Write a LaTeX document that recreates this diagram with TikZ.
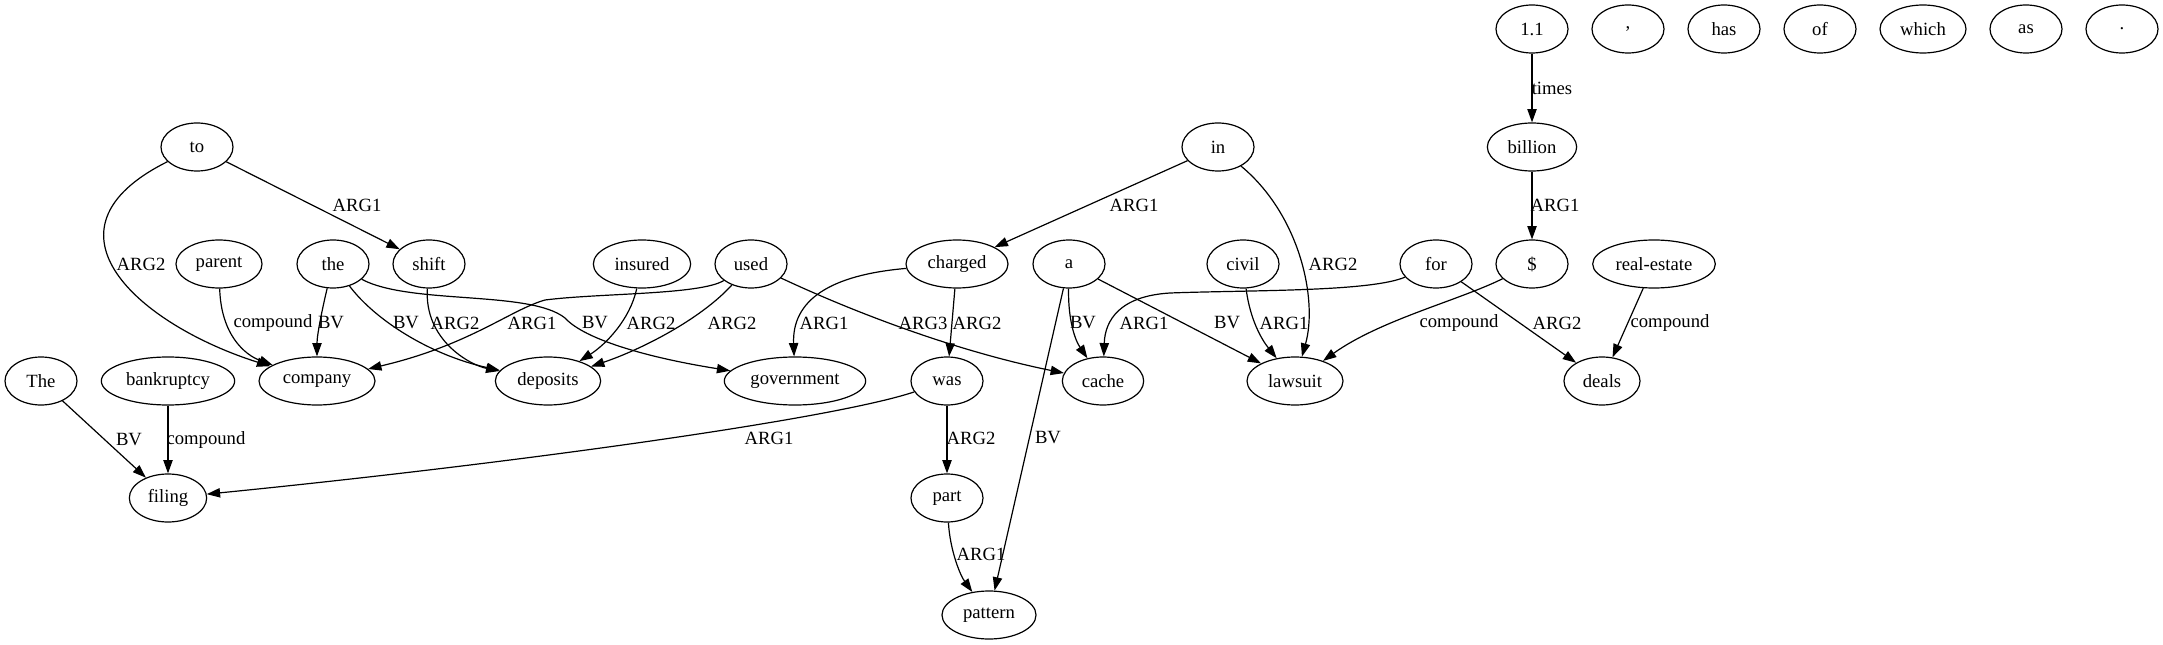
\documentclass[tikz,border=0pt]{standalone}
\usepackage{fontspec}
\setmainfont{Liberation Serif}
\usepackage{tikz}
\usetikzlibrary{shapes.geometric, arrows.meta, positioning}

\begin{document}
\begin{tikzpicture}[x=0.75pt, y=-0.75pt,
    tok/.style={draw, ellipse, line width=0.9pt, minimum width=54pt, minimum height=36pt, inner sep=0pt, font=\fontsize{14}{17}\selectfont},
    lbl/.style={inner sep=0pt, font=\fontsize{14}{17}\selectfont},
    edge/.style={line width=0.9pt, -{Triangle[length=10pt,width=7pt]}}]
    \useasboundingbox (0,0) rectangle (2163,645);

    % Loose tokens along the top
    \node[tok] (onept) at (1532,29) {1.1};
    \node[tok] (comma) at (1628,29) {,};
    \node[tok] (has) at (1724,29) {has};
    \node[tok] (of) at (1820,29) {of};
    \node[tok, minimum width=64.5pt] (which) at (1923,29) {which};
    \node[tok] (as) at (2026,29) {as};
    \node[tok] (period) at (2122,29) {.};

    % Second row
    \node[tok] (to) at (197,147) {to};
    \node[tok] (in) at (1218,147) {in};
    \node[tok, minimum width=67pt] (billion) at (1532,147) {billion};

    % Third row
    \node[tok, minimum width=64.5pt] (parent) at (219,264) {parent};
    \node[tok] (the) at (333,264) {the};
    \node[tok] (shift) at (429,264) {shift};
    \node[tok, minimum width=73pt] (insured) at (642,264) {insured};
    \node[tok] (used) at (751,264) {used};
    \node[tok, minimum width=76.5pt] (charged) at (957,264) {charged};
    \node[tok] (a) at (1069,264) {a};
    \node[tok] (civil) at (1243,264) {civil};
    \node[tok] (for) at (1436,264) {for};
    \node[tok] (dollar) at (1532,264) {\$};
    \node[tok, minimum width=92pt] (realestate) at (1654,264) {real-estate};

    % Fourth row
    \node[tok] (The) at (41,381) {The};
    \node[tok, minimum width=100pt] (bankruptcy) at (168,381) {bankruptcy};
    \node[tok, minimum width=87pt] (company) at (317,381) {company};
    \node[tok, minimum width=79pt] (deposits) at (548,381) {deposits};
    \node[tok, minimum width=106pt] (government) at (795,381) {government};
    \node[tok] (was) at (947,381) {was};
    \node[tok, minimum width=61pt] (cache) at (1103,381) {cache};
    \node[tok, minimum width=72pt] (lawsuit) at (1295,381) {lawsuit};
    \node[tok, minimum width=57pt] (deals) at (1602,381) {deals};

    % Bottom rows
    \node[tok, minimum width=58pt] (filing) at (168,498) {filing};
    \node[tok] (part) at (947,498) {part};
    \node[tok, minimum width=70.5pt] (pattern) at (989,615) {pattern};

    % Edges on the left
    \draw[edge] (to) -- (shift) node[lbl] at (357,205) {ARG1};
    \draw[edge] (to) .. controls (30,230) and (140,325) .. (company) node[lbl] at (141,264) {ARG2};
    \draw[edge] (parent) .. controls (221,335) and (245,355) .. (company) node[lbl] at (273,323) {compound};
    \draw[edge] (the) .. controls (322,310) and (317,335) .. (company) node[lbl] at (331,323) {BV};
    \draw[edge] (the) .. controls (375,320) and (430,355) .. (deposits) node[lbl] at (406,323) {BV};
    \draw[edge] (the) .. controls (410,305) and (530,290) .. (565,318) .. controls (585,340) and (650,358) .. (government) node[lbl] at (595,323) {BV};
    \draw[edge] (shift) .. controls (424,340) and (470,365) .. (deposits) node[lbl] at (455,323) {ARG2};
    \draw[edge] (insured) .. controls (630,320) and (605,345) .. (deposits) node[lbl] at (651,323) {ARG2};
    \draw[edge] (used) .. controls (700,320) and (640,350) .. (deposits) node[lbl] at (732,323) {ARG2};
    \draw[edge] (used) .. controls (700,295) and (600,293) .. (545,300) .. controls (510,310) and (470,345) .. (company) node[lbl] at (532,323) {ARG1};
    \draw[edge] (The) -- (filing) node[lbl] at (129,440) {BV};
    \draw[edge] (bankruptcy) -- (filing) node[lbl] at (206,440) {compound};

    % Edges in the middle
    \draw[edge] (used) .. controls (860,315) and (960,352) .. (cache) node[lbl] at (923,323) {ARG3};
    \draw[edge] (charged) .. controls (830,275) and (792,300) .. (government) node[lbl] at (824,323) {ARG1};
    \draw[edge] (charged) -- (was) node[lbl] at (977,323) {ARG2};
    \draw[edge] (in) -- (charged) node[lbl] at (1134,205) {ARG1};
    \draw[edge] (in) .. controls (1300,215) and (1318,300) .. (lawsuit) node[lbl] at (1333,264) {ARG2};
    \draw[edge] (a) .. controls (1068,320) and (1075,340) .. (cache) node[lbl] at (1083,323) {BV};
    \draw[edge] (a) -- (lawsuit) node[lbl] at (1227,323) {BV};
    \draw[edge] (a) -- (pattern) node[lbl] at (1048,438) {BV};
    \draw[edge] (civil) .. controls (1250,320) and (1262,340) .. (lawsuit) node[lbl] at (1284,323) {ARG1};
    \draw[edge] (was) .. controls (830,420) and (500,465) .. (filing) node[lbl] at (769,438) {ARG1};
    \draw[edge] (was) -- (part) node[lbl] at (971,438) {ARG2};
    \draw[edge] (part) .. controls (950,550) and (960,575) .. (pattern) node[lbl] at (981,554) {ARG1};

    % Edges on the right
    \draw[edge] (for) .. controls (1370,292) and (1250,290) .. (1170,293) .. controls (1120,296) and (1105,320) .. (cache) node[lbl] at (1144,323) {ARG1};
    \draw[edge] (dollar) .. controls (1460,300) and (1380,320) .. (lawsuit) node[lbl] at (1459,323) {compound};
    \draw[edge] (for) -- (deals) node[lbl] at (1557,323) {ARG2};
    \draw[edge] (realestate) -- (deals) node[lbl] at (1670,323) {compound};
    \draw[edge] (billion) -- (dollar) node[lbl] at (1555,205) {ARG1};
    \draw[edge] (onept) -- (billion) node[lbl] at (1552,88) {times};
\end{tikzpicture}
\end{document}
